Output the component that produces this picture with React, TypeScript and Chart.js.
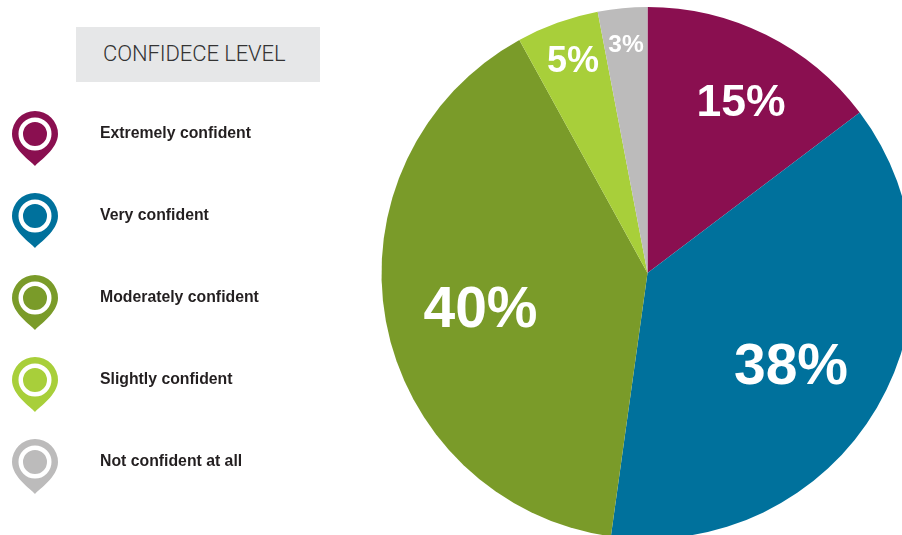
import React, { useEffect, useRef } from "react";
import { Chart, registerables } from "chart.js";

Chart.register(...registerables);

const categories = ["Extremely confident", "Very confident", "Moderately confident", "Slightly confident", "Not confident at all"];
const values = [14.7, 37.5, 39.8, 5.0, 3.0];
const sliceLabelTexts = ["15%", "38%", "40%", "5%", "3%"];
const colors = ["#8a0f50", "#00719c", "#7a9b29", "#a8cf3a", "#bcbbbb"];
const legendTitle = "CONFIDECE LEVEL";
const labelFontSizes = [44.5, 57, 57, 36, 24.5];
const labelRadiusFactors = [0.726, 0.647, 0.644, 0.84, 0.859];
const labelAngleShifts = [0.0435, 0.054, -0.042, 0.006, 0];

const sliceLabels = {
  id: "sliceLabels",
  afterDatasetsDraw(chart: any) {
    const { ctx } = chart;
    chart.getDatasetMeta(0).data.forEach((arc: any, i: number) => {
      const mid = (arc.startAngle + arc.endAngle) / 2 + labelAngleShifts[i];
      const r = arc.outerRadius * labelRadiusFactors[i];
      ctx.save();
      ctx.fillStyle = "#ffffff";
      ctx.font = `bold ${labelFontSizes[i]}px "Liberation Sans", Arial, sans-serif`;
      ctx.textAlign = "center";
      ctx.textBaseline = "middle";
      ctx.fillText(sliceLabelTexts[i], arc.x + Math.cos(mid) * r, arc.y + Math.sin(mid) * r);
      ctx.restore();
    });
  },
};

function Pin({ color, top }: { color: string; top: number }) {
  return (
    <svg width={48} height={57} viewBox="0 0 48 57" style={{ position: "absolute", left: 10.5, top }}>
      <path d="M24 55 C20 50 1 38 1 23 A23 23 0 1 1 47 23 C47 38 28 50 24 55 Z" fill={color} />
      <circle cx={24} cy={23} r={14.25} fill={color} stroke="#ffffff" strokeWidth={4.5} />
    </svg>
  );
}

export default function App() {
  const ref = useRef<HTMLCanvasElement>(null);
  useEffect(() => {
    document.body.style.margin = "0";
    const chart = new Chart(ref.current as HTMLCanvasElement, {
      type: "pie",
      data: {
        labels: categories,
        datasets: [{ data: values, backgroundColor: colors, borderWidth: 0 }],
      },
      options: {
        animation: false,
        responsive: false,
        layout: { padding: { left: 381.5, right: 16.5, top: 7, bottom: 21 } },
        plugins: { legend: { display: false }, tooltip: { enabled: false } },
      },
      plugins: [sliceLabels],
    } as any);
    return () => chart.destroy();
  }, []);

  const font = '"Liberation Sans", Arial, sans-serif';
  return (
    <div style={{ position: "relative", width: 902, height: 535, overflow: "hidden", background: "#fff", fontFamily: font }}>
      <canvas ref={ref} width={930} height={560} style={{ position: "absolute", left: 0, top: 0, width: 930, height: 560 }} />
      <div
        style={{
          position: "absolute", left: 76, top: 27, width: 244, height: 55, background: "#e6e7e8",
          color: "#333333", fontFamily: 'Roboto, "Liberation Sans", sans-serif', fontWeight: 300, fontSize: 22, lineHeight: "53px", paddingLeft: 27, boxSizing: "border-box",
          letterSpacing: -0.1, whiteSpace: "nowrap",
        }}
      >
        {legendTitle}
      </div>
      {categories.map((c, i) => (
        <React.Fragment key={c}>
          <Pin color={colors[i]} top={111 + i * 82} />
          <div
            style={{
              position: "absolute", left: 100, top: 124 + i * 82, fontSize: 15.8, lineHeight: "18px",
              fontWeight: 700, color: "#231f20", whiteSpace: "nowrap",
            }}
          >
            {c}
          </div>
        </React.Fragment>
      ))}
    </div>
  );
}
